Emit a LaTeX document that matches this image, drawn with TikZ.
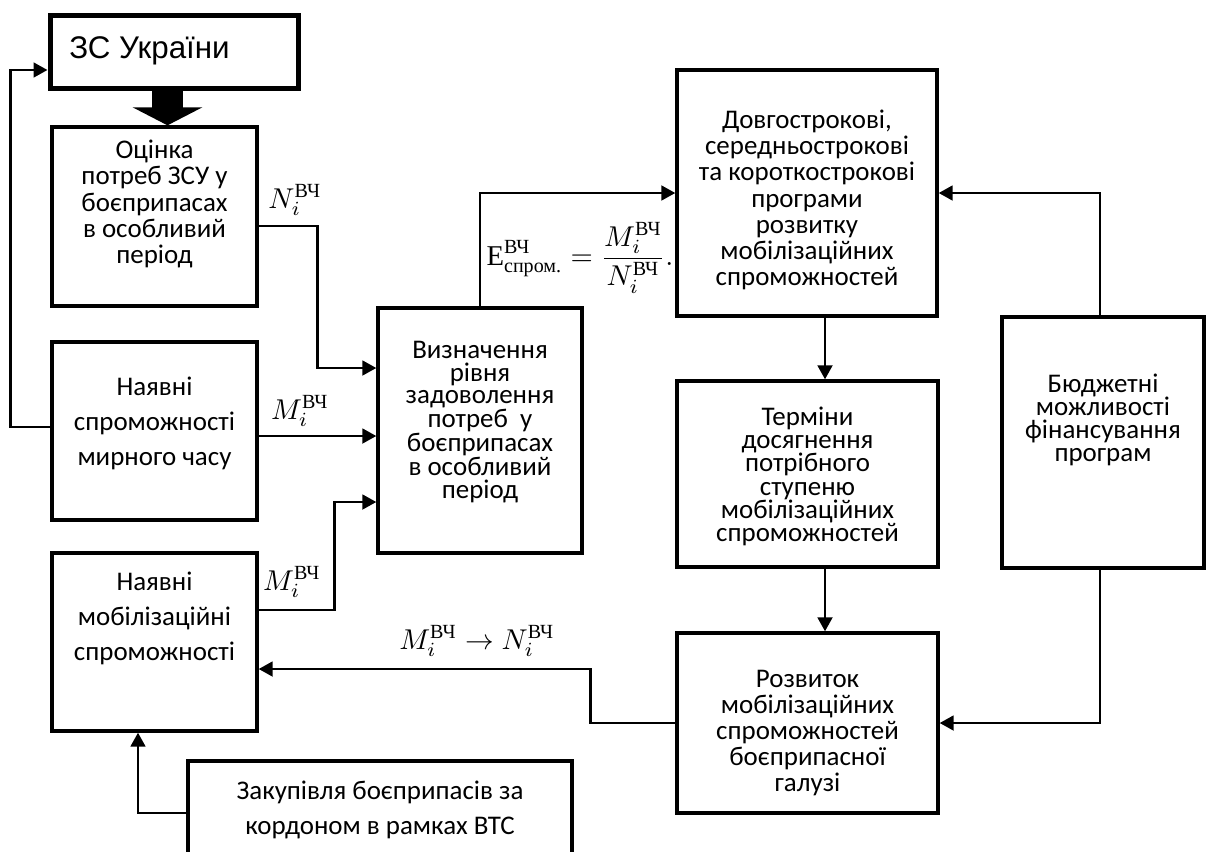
\documentclass[tikz,border=0pt]{standalone}
\usepackage{fontspec}
\usepackage{amsmath}
\usetikzlibrary{arrows.meta,calc}
\newfontfamily\carl{Carlito}
\newfontfamily\lsans{Liberation Sans}
\newfontfamily\cyrser{Liberation Serif}
\newcommand{\VCh}{\text{\cyrser ВЧ}}
\begin{document}
\begin{tikzpicture}[x=0.75pt,y=-0.75pt,
  box/.style={draw,line width=2.5pt,rectangle,inner sep=0pt},
  txt/.style={align=center,inner sep=0pt},
  mlab/.style={inner sep=0pt,scale=2.15},
  conn/.style={line width=2.1pt,-{Triangle[length=10.5pt,width=11pt]}}]
\useasboundingbox (0,0) rectangle (1206,851);
\fill[white] (0,0) rectangle (1206,851);
% helper coordinates
\coordinate (h70) at (0,70);
\coordinate (h226) at (0,226);
\coordinate (h368) at (0,368);
\coordinate (h427) at (0,427);
\coordinate (h436) at (0,436);
\coordinate (h502) at (0,502);
\coordinate (h610) at (0,610);
\coordinate (h669) at (0,669);
\coordinate (h813) at (0,813);
\coordinate (v138) at (138,0);
\coordinate (v167) at (167.5,0);
\coordinate (v825) at (825,0);
\coordinate (v1100) at (1100,0);
% boxes
\node[box,line width=3.75pt,minimum width=186pt,minimum height=54.75pt] (zs) at (174,51.5) {};
\node[box,minimum width=153.75pt,minimum height=134.25pt] (ocinka) at (154.5,216.5) {};
\node[box,minimum width=153.75pt,minimum height=133.5pt] (myr) at (154.5,431) {};
\node[box,minimum width=153.75pt,minimum height=133.5pt] (mob) at (154.5,642) {};
\node[box,minimum width=288pt,minimum height=78.75pt] (zakup) at (380,813.5) {};
\node[box,minimum width=153pt,minimum height=183.75pt] (vyzn) at (480,430.5) {};
\node[box,minimum width=195pt,minimum height=184.5pt] (dovgo) at (807,193) {};
\node[box,minimum width=195.75pt,minimum height=139.5pt] (termin) at (807.5,474) {};
\node[box,minimum width=195.75pt,minimum height=135pt] (rozv) at (807.5,723) {};
\node[box,minimum width=151.5pt,minimum height=188.25pt] (budget) at (1103,442.5) {};
% texts
\node[txt,anchor=west,font=\lsans\fontsize{23.5}{28}\selectfont] (zsT) at (69,51) {ЗС України};
\node[txt,font=\carl\fontsize{20.2}{19.6}\selectfont] (ocinkaT) at (154.5,204) {Оцінка\\потреб ЗСУ у\\боєприпасах\\в особливий\\період};
\node[txt,font=\carl\fontsize{20.2}{26.25}\selectfont] (myrT) at (154.5,423) {Наявні\\спроможності\\мирного часу};
\node[txt,font=\carl\fontsize{20.2}{26.25}\selectfont] (mobT) at (154.5,618) {Наявні\\мобілізаційні\\спроможності};
\node[txt,font=\carl\fontsize{20.2}{26.25}\selectfont] (zakupT) at (380,809.5) {Закупівля боєприпасів за\\кордоном в рамках ВТС};
\node[txt,font=\carl\fontsize{20.2}{17}\selectfont] (vyznT) at (480,422) {Визначення\\рівня\\задоволення\\потреб \ у\\боєприпасах\\в особливий\\період};
\node[txt,font=\carl\fontsize{20.2}{19.6}\selectfont] (dovgoT) at (807,200) {Довгострокові,\\середньострокові\\та короткострокові\\програми\\розвитку\\мобілізаційних\\спроможностей};
\node[txt,font=\carl\fontsize{20.2}{17.5}\selectfont] (terminT) at (807.5,476.5) {Терміни\\досягнення\\потрібного\\ступеню\\мобілізаційних\\спроможностей};
\node[txt,font=\carl\fontsize{20.2}{19.4}\selectfont] (rozvT) at (807.5,733) {Розвиток\\мобілізаційних\\спроможностей\\боєприпасної\\галузі};
\node[txt,font=\carl\fontsize{20.2}{17.25}\selectfont] (budgetT) at (1103,420) {Бюджетні\\можливості\\фінансування\\програм};
% math labels
\node[mlab] (lN1) at (295,200) {$N_i^{\VCh}$};
\node[mlab] (lM1) at (300,411) {$M_i^{\VCh}$};
\node[mlab] (lM2) at (292,582) {$M_i^{\VCh}$};
\node[mlab] (lE) at (580,258) {$\text{\cyrser Е}^{\VCh}_{\text{\cyrser спром.}}=\dfrac{M_i^{\VCh}}{N_i^{\VCh}}.$};
\node[mlab] (lMN) at (477,641) {$M_i^{\VCh}\rightarrow N_i^{\VCh}$};
% big arrow
\draw[line width=23.25pt,-{Triangle[length=13.5pt,width=51.75pt]}] (zs.south -| v167) -- (ocinka.north -| v167);
% connectors
\draw[conn] (ocinka.east |- h226) -- ++(59,0) |- (vyzn.west |- h368);
\draw[conn] (myr.east |- h436) -- (vyzn.west |- h436);
\draw[conn] (mob.east |- h610) -- ++(76,0) |- (vyzn.west |- h502);
\draw[conn] (myr.west |- h427) -- ++(-40,0) |- (zs.west |- h70);
\draw[conn] (vyzn.north) |- (dovgo.west);
\draw[conn] (dovgo.south -| v825) -- (termin.north -| v825);
\draw[conn] (termin.south -| v825) -- (rozv.north -| v825);
\draw[conn] (budget.north -| v1100) |- (dovgo.east);
\draw[conn] (budget.south -| v1100) |- (rozv.east);
\draw[conn] (rozv.west) -- ++(-85,0) |- (mob.east |- h669);
\draw[conn] (zakup.west |- h813) -| (mob.south -| v138);
\end{tikzpicture}
\end{document}
